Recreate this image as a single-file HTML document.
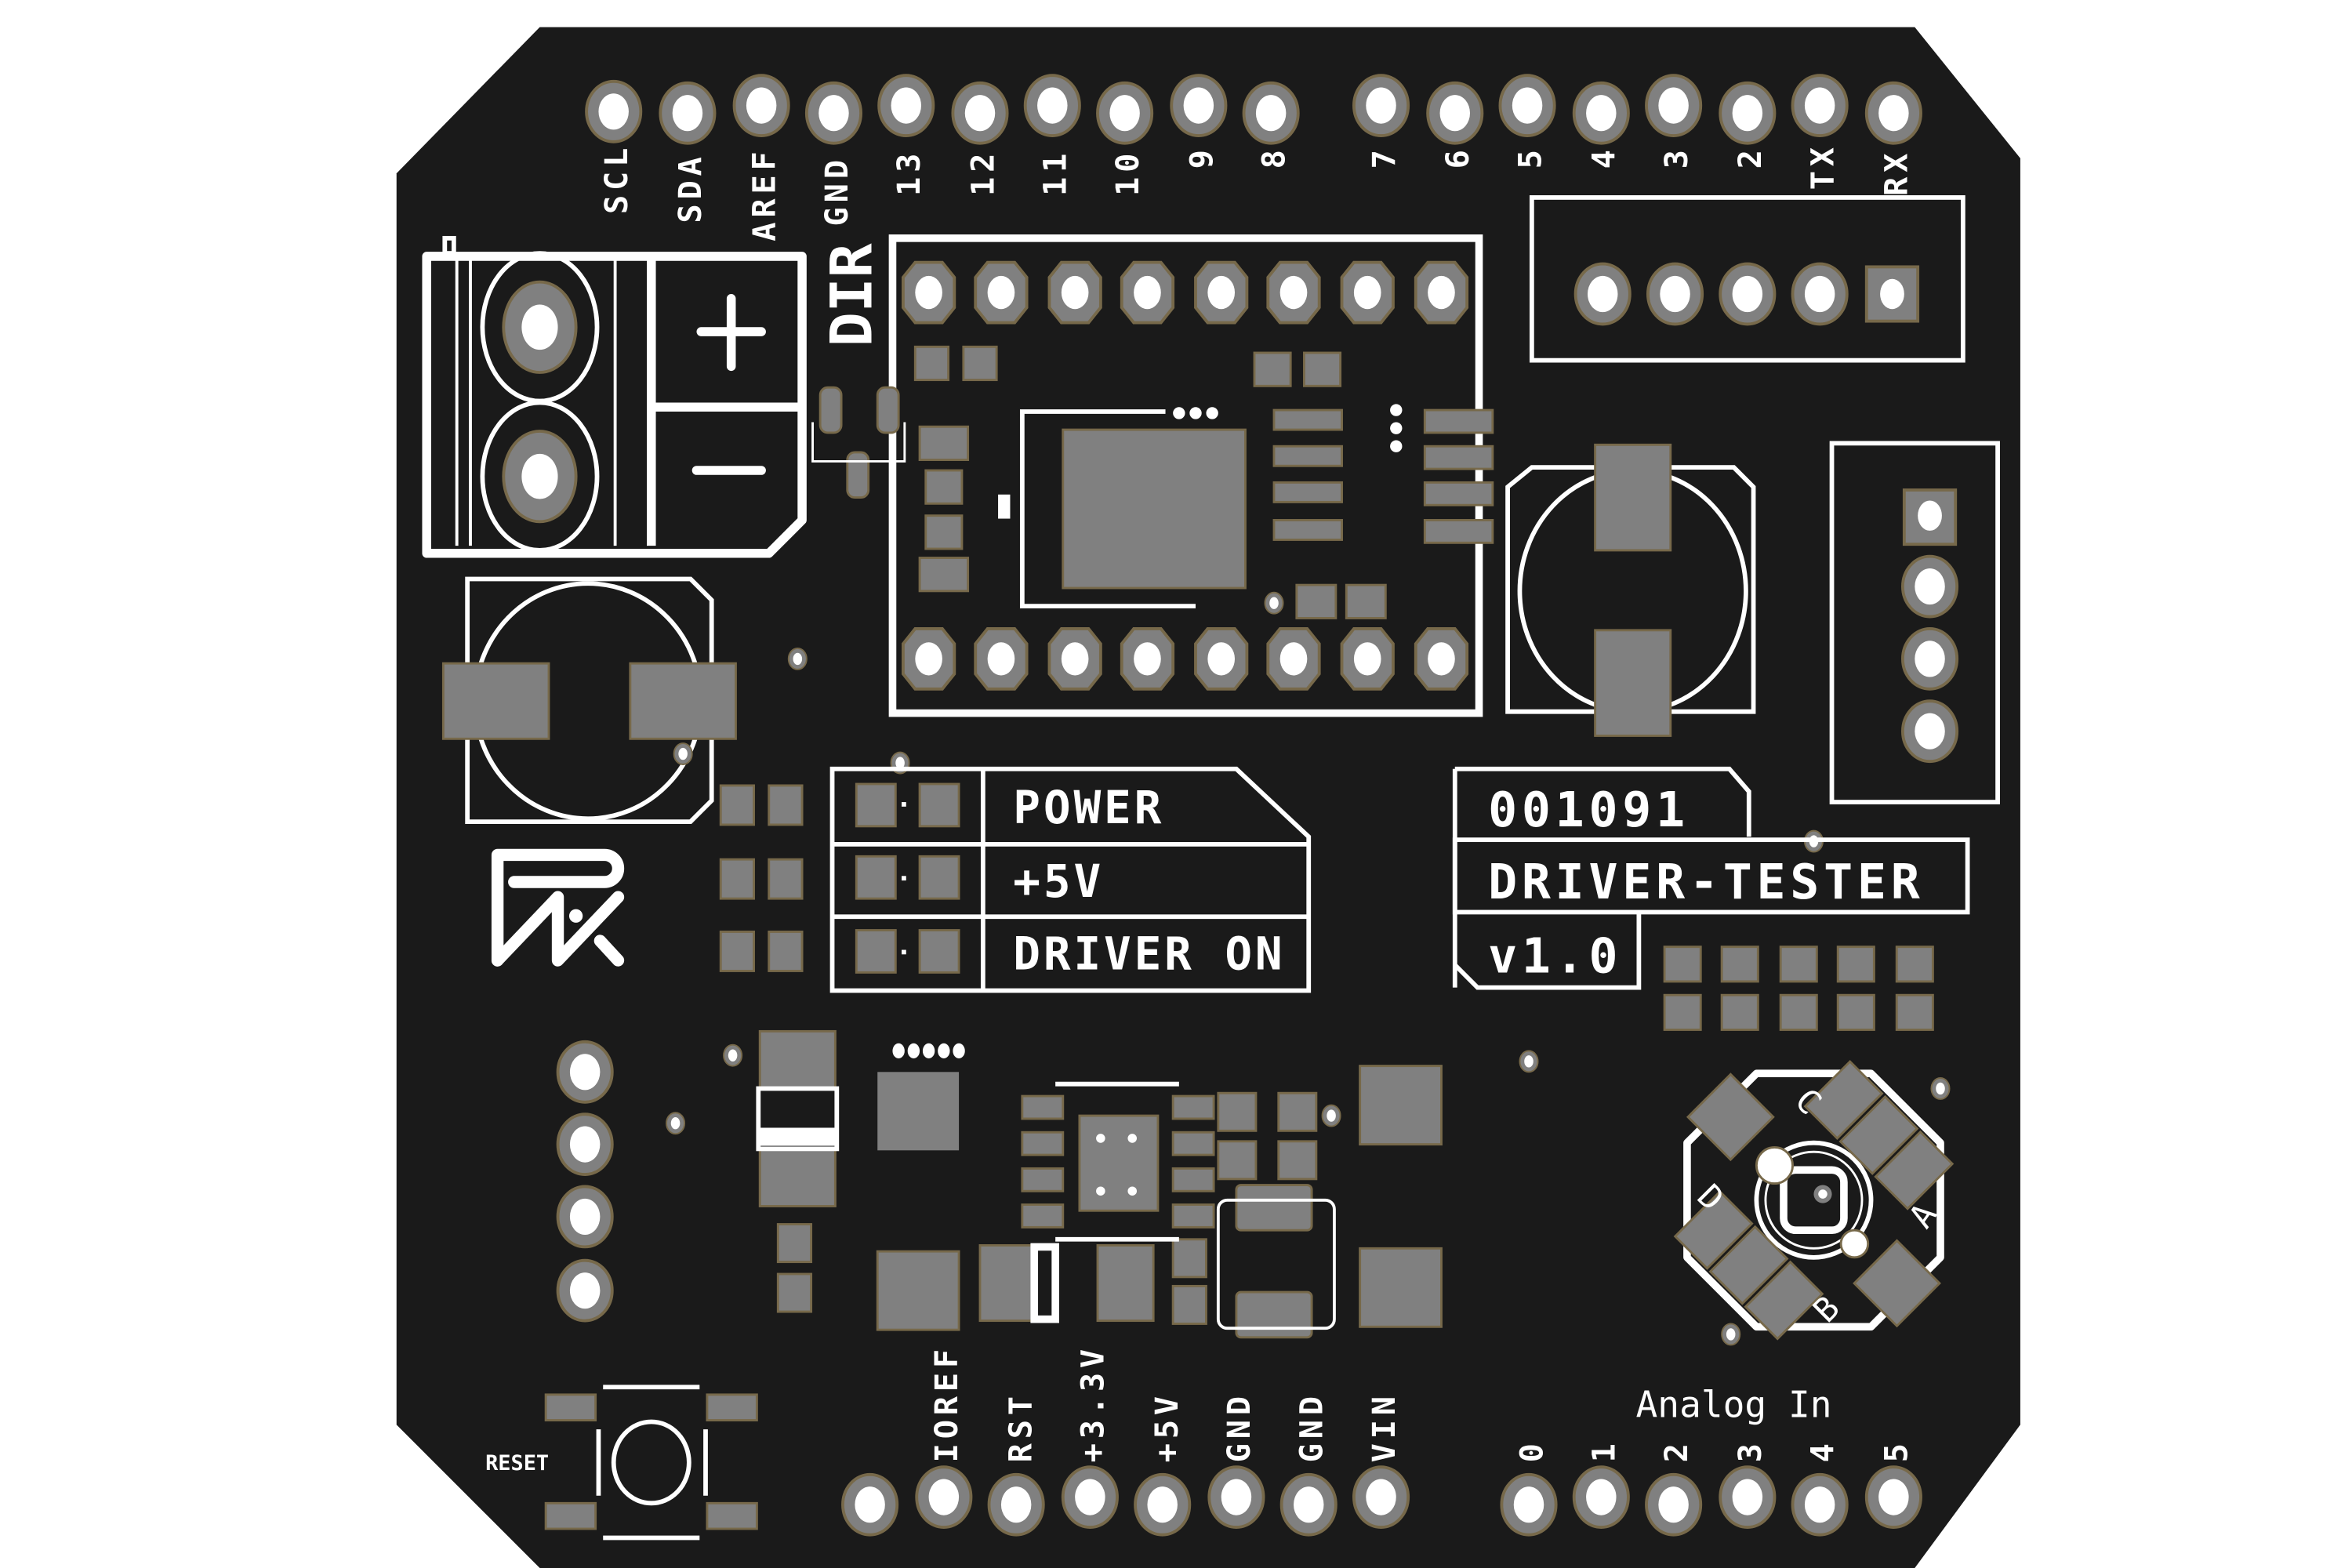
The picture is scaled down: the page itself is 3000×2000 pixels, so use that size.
<!DOCTYPE html>
<html><head><meta charset="utf-8"><style>
html,body{margin:0;padding:0;background:#fff;}
svg{display:block}
text{font-family:"DejaVu Sans Mono","Liberation Mono",monospace;fill:#fff;}
</style></head><body>
<svg width="3000" height="2000" viewBox="0 0 1560 1040" xmlns="http://www.w3.org/2000/svg">
<defs>
<g id="pin"><ellipse rx="18" ry="20" fill="#808080" stroke="#77694a" stroke-width="2"/><ellipse rx="10" ry="12" fill="#fff"/></g>
<g id="opin"><polygon points="-9,-20 9,-20 17,-10 17,10 9,20 -9,20 -17,10 -17,-10" fill="#808080" stroke="#77694a" stroke-width="2"/><ellipse rx="9" ry="11" fill="#fff"/></g>
<g id="via"><ellipse rx="6" ry="7" fill="#808080" stroke="#77694a" stroke-width="1"/><ellipse rx="3" ry="4" fill="#fff"/></g>
</defs>
<rect width="1560" height="1040" fill="#fff"/>
<polygon points="358,18 1270,18 1340,105 1340,945 1270,1040 358,1040 263,945 263,115" fill="#1a1a1a"/>
<g>
<use href="#pin" x="407" y="74"/><use href="#pin" x="456" y="75"/><use href="#pin" x="505" y="70"/><use href="#pin" x="553" y="75"/><use href="#pin" x="601" y="70"/><use href="#pin" x="650" y="75"/><use href="#pin" x="698" y="70"/><use href="#pin" x="746" y="75"/><use href="#pin" x="795" y="70"/><use href="#pin" x="843" y="75"/>
<use href="#pin" x="916" y="70"/><use href="#pin" x="965" y="75"/><use href="#pin" x="1013" y="70"/><use href="#pin" x="1062" y="75"/><use href="#pin" x="1110" y="70"/><use href="#pin" x="1159" y="75"/><use href="#pin" x="1207" y="70"/><use href="#pin" x="1256" y="75"/>
<use href="#pin" x="577" y="998"/><use href="#pin" x="626" y="993"/><use href="#pin" x="674" y="998"/><use href="#pin" x="723" y="993"/><use href="#pin" x="771" y="998"/><use href="#pin" x="820" y="993"/><use href="#pin" x="868" y="998"/><use href="#pin" x="916" y="993"/>
<use href="#pin" x="1014" y="998"/><use href="#pin" x="1062" y="993"/><use href="#pin" x="1110" y="998"/><use href="#pin" x="1159" y="993"/><use href="#pin" x="1207" y="998"/><use href="#pin" x="1256" y="993"/>
<use href="#pin" x="388" y="711"/><use href="#pin" x="388" y="759"/><use href="#pin" x="388" y="807"/><use href="#pin" x="388" y="856"/>
</g>
<g font-size="21" font-weight="bold" letter-spacing="3">
<text transform="translate(416,142) rotate(-90)">SCL</text>
<text transform="translate(465,148) rotate(-90)">SDA</text>
<text transform="translate(514,160) rotate(-90)">AREF</text>
<text transform="translate(562,150) rotate(-90)">GND</text>
<text transform="translate(610,130) rotate(-90)">13</text>
<text transform="translate(659,130) rotate(-90)">12</text>
<text transform="translate(707,130) rotate(-90)">11</text>
<text transform="translate(755,130) rotate(-90)">10</text>
<text transform="translate(804,112) rotate(-90)">9</text>
<text transform="translate(852,112) rotate(-90)">8</text>
<text transform="translate(925,112) rotate(-90)">7</text>
<text transform="translate(974,112) rotate(-90)">6</text>
<text transform="translate(1022,112) rotate(-90)">5</text>
<text transform="translate(1071,112) rotate(-90)">4</text>
<text transform="translate(1119,112) rotate(-90)">3</text>
<text transform="translate(1168,112) rotate(-90)">2</text>
<text transform="translate(1216,126) rotate(-90)">TX</text>
<text transform="translate(1265,130) rotate(-90)">RX</text>
<text transform="translate(635,970) rotate(-90)">IOREF</text>
<text transform="translate(684,970) rotate(-90)">RST</text>
<text transform="translate(732,970) rotate(-90)">+3.3V</text>
<text transform="translate(781,970) rotate(-90)">+5V</text>
<text transform="translate(829,970) rotate(-90)">GND</text>
<text transform="translate(877,970) rotate(-90)">GND</text>
<text transform="translate(925,970) rotate(-90)">VIN</text>
<text transform="translate(1023,970) rotate(-90)">0</text>
<text transform="translate(1071,970) rotate(-90)">1</text>
<text transform="translate(1119,970) rotate(-90)">2</text>
<text transform="translate(1168,970) rotate(-90)">3</text>
<text transform="translate(1216,970) rotate(-90)">4</text>
<text transform="translate(1265,970) rotate(-90)">5</text>
</g>
<text x="1150" y="940" font-size="24" text-anchor="middle" font-family="Liberation Sans Narrow, Liberation Sans, sans-serif">Analog In</text>
<text transform="translate(578,230) rotate(-90)" font-size="38" font-weight="bold">DIR</text>

<!-- terminal block -->
<g fill="none" stroke="#fff">
<path d="M283,170 H532 V345 L510,367 H283 Z" stroke-width="6" stroke-linejoin="round"/>
<line x1="303" y1="172" x2="303" y2="362" stroke-width="2"/><line x1="312" y1="172" x2="312" y2="362" stroke-width="2"/>
<line x1="408" y1="172" x2="408" y2="362" stroke-width="2"/>
<line x1="432" y1="172" x2="432" y2="362" stroke-width="6"/>
<line x1="432" y1="270" x2="532" y2="270" stroke-width="6"/>
<ellipse cx="358" cy="217" rx="38" ry="49" stroke-width="3"/>
<ellipse cx="358" cy="316" rx="38" ry="49" stroke-width="3"/>
<line x1="465" y1="220" x2="505" y2="220" stroke-width="6" stroke-linecap="round"/>
<line x1="485" y1="198" x2="485" y2="243" stroke-width="6" stroke-linecap="round"/>
<line x1="462" y1="312" x2="505" y2="312" stroke-width="6" stroke-linecap="round"/>
<rect x="295" y="158" width="6" height="10" stroke-width="3"/>
</g>
<g><ellipse cx="358" cy="217" rx="24" ry="30" fill="#808080" stroke="#77694a" stroke-width="2"/><ellipse cx="358" cy="217" rx="12" ry="15" fill="#fff"/>
<ellipse cx="358" cy="316" rx="24" ry="30" fill="#808080" stroke="#77694a" stroke-width="2"/><ellipse cx="358" cy="316" rx="12" ry="15" fill="#fff"/></g>

<!-- driver module -->
<rect x="592" y="158" width="389" height="315" fill="none" stroke="#fff" stroke-width="5"/>
<g>
<use href="#opin" x="616" y="194"/><use href="#opin" x="664" y="194"/><use href="#opin" x="713" y="194"/><use href="#opin" x="761" y="194"/><use href="#opin" x="810" y="194"/><use href="#opin" x="858" y="194"/><use href="#opin" x="907" y="194"/><use href="#opin" x="956" y="194"/>
<use href="#opin" x="616" y="437"/><use href="#opin" x="664" y="437"/><use href="#opin" x="713" y="437"/><use href="#opin" x="761" y="437"/><use href="#opin" x="810" y="437"/><use href="#opin" x="858" y="437"/><use href="#opin" x="907" y="437"/><use href="#opin" x="956" y="437"/>
</g>
<path d="M793,402 H678 V273 H773" fill="none" stroke="#fff" stroke-width="3"/>
<rect x="662" y="328" width="8" height="16" fill="#fff"/>
<g fill="#808080" stroke="#77694a" stroke-width="1.5">
<rect x="705" y="285" width="121" height="105"/>
<rect x="607" y="230" width="22" height="22"/><rect x="639" y="230" width="22" height="22"/>
<rect x="832" y="234" width="24" height="22"/><rect x="865" y="234" width="24" height="22"/>
<rect x="544" y="257" width="14" height="30" rx="5"/><rect x="582" y="257" width="14" height="30" rx="5"/><rect x="562" y="300" width="14" height="30" rx="5"/>
<rect x="610" y="283" width="32" height="22"/><rect x="614" y="312" width="24" height="22"/><rect x="614" y="342" width="24" height="22"/><rect x="610" y="370" width="32" height="22"/>
<rect x="845" y="272" width="45" height="13"/><rect x="845" y="296" width="45" height="13"/><rect x="845" y="320" width="45" height="13"/><rect x="845" y="345" width="45" height="13"/>
<rect x="945" y="272" width="45" height="15"/><rect x="945" y="296" width="45" height="15"/><rect x="945" y="320" width="45" height="15"/><rect x="945" y="345" width="45" height="15"/>
<rect x="860" y="388" width="26" height="22"/><rect x="893" y="388" width="26" height="22"/>
</g>
<path d="M539,280 V306 H600 V280" fill="none" stroke="#fff" stroke-width="1.5"/>
<g fill="#fff"><circle cx="782" cy="274" r="4"/><circle cx="793" cy="274" r="4"/><circle cx="804" cy="274" r="4"/><circle cx="926" cy="272" r="4"/><circle cx="926" cy="284" r="4"/><circle cx="926" cy="296" r="4"/><circle cx="845" cy="400" r="4"/></g>

<!-- right connectors -->
<rect x="1016" y="131" width="286" height="108" fill="none" stroke="#fff" stroke-width="3"/>
<use href="#pin" x="1063" y="195"/><use href="#pin" x="1111" y="195"/><use href="#pin" x="1159" y="195"/><use href="#pin" x="1207" y="195"/>
<rect x="1238" y="177" width="34" height="36" fill="#808080" stroke="#77694a" stroke-width="2"/><ellipse cx="1255" cy="195" rx="8" ry="10" fill="#fff"/>
<rect x="1215" y="294" width="110" height="238" fill="none" stroke="#fff" stroke-width="3"/>
<rect x="1263" y="325" width="34" height="36" fill="#808080" stroke="#77694a" stroke-width="2"/><ellipse cx="1280" cy="342" rx="8" ry="10" fill="#fff"/>
<use href="#pin" x="1280" y="389"/><use href="#pin" x="1280" y="437"/><use href="#pin" x="1280" y="485"/>

<!-- capacitors -->
<path d="M1016,310 H1150 L1163,323 V472 H1000 V323 Z" fill="none" stroke="#fff" stroke-width="3"/>
<ellipse cx="1083" cy="392" rx="75" ry="80" fill="none" stroke="#fff" stroke-width="3"/>
<rect x="1058" y="295" width="50" height="70" fill="#808080" stroke="#77694a" stroke-width="1.5"/>
<rect x="1058" y="418" width="50" height="70" fill="#808080" stroke="#77694a" stroke-width="1.5"/>
<path d="M310,384 H458 L472,398 V531 L458,545 H310 Z" fill="none" stroke="#fff" stroke-width="3"/>
<ellipse cx="390" cy="465" rx="75" ry="78" fill="none" stroke="#fff" stroke-width="3"/>
<rect x="294" y="440" width="70" height="50" fill="#808080" stroke="#77694a" stroke-width="1.5"/>
<rect x="418" y="440" width="70" height="50" fill="#808080" stroke="#77694a" stroke-width="1.5"/>
<use href="#via" x="453" y="500"/><use href="#via" x="529" y="437"/><use href="#via" x="597" y="506"/><use href="#via" x="486" y="700"/><use href="#via" x="448" y="745"/><use href="#via" x="1014" y="704"/><use href="#via" x="883" y="740"/><use href="#via" x="1287" y="722"/><use href="#via" x="1148" y="885"/><use href="#via" x="1203" y="558"/><use href="#via" x="845" y="400"/>

<!-- LED table -->
<path d="M552,510 H820 L868,555 V657 H552 Z" fill="none" stroke="#fff" stroke-width="3"/>
<g stroke="#fff" stroke-width="3"><line x1="552" y1="560" x2="868" y2="560"/><line x1="552" y1="608" x2="868" y2="608"/><line x1="652" y1="510" x2="652" y2="657"/></g>
<g fill="#808080" stroke="#77694a" stroke-width="1.5">
<rect x="568" y="520" width="26" height="28"/><rect x="610" y="520" width="26" height="28"/>
<rect x="568" y="568" width="26" height="28"/><rect x="610" y="568" width="26" height="28"/>
<rect x="568" y="617" width="26" height="28"/><rect x="610" y="617" width="26" height="28"/>
<rect x="478" y="521" width="22" height="26"/><rect x="510" y="521" width="22" height="26"/>
<rect x="478" y="570" width="22" height="26"/><rect x="510" y="570" width="22" height="26"/>
<rect x="478" y="618" width="22" height="26"/><rect x="510" y="618" width="22" height="26"/>
</g>
<g fill="#fff"><rect x="598" y="532" width="3" height="3"/><rect x="598" y="581" width="3" height="3"/><rect x="598" y="630" width="3" height="3"/></g>
<g font-size="30" font-family="Liberation Sans Narrow, Liberation Sans, sans-serif" font-weight="bold" letter-spacing="2">
<text x="672" y="546">POWER</text><text x="672" y="595">+5V</text><text x="672" y="643">DRIVER ON</text>
</g>

<!-- label boxes -->
<path d="M965,510 H1147 L1160,525 V555" fill="none" stroke="#fff" stroke-width="3"/>
<line x1="965" y1="510" x2="965" y2="655" stroke="#fff" stroke-width="3"/>
<rect x="965" y="557" width="340" height="48" fill="none" stroke="#fff" stroke-width="3"/>
<path d="M965,640 L980,655 H1087 V605" fill="none" stroke="#fff" stroke-width="3"/>
<g font-size="32" font-family="Liberation Sans Narrow, Liberation Sans, sans-serif" font-weight="bold" letter-spacing="3">
<text x="987" y="548">001091</text><text x="987" y="596">DRIVER-TESTER</text><text x="987" y="645">v1.0</text>
</g>
<g fill="#808080" stroke="#77694a" stroke-width="1.5">
<rect x="1104" y="628" width="24" height="23"/><rect x="1142" y="628" width="24" height="23"/><rect x="1181" y="628" width="24" height="23"/><rect x="1219" y="628" width="24" height="23"/><rect x="1258" y="628" width="24" height="23"/>
<rect x="1104" y="660" width="24" height="23"/><rect x="1142" y="660" width="24" height="23"/><rect x="1181" y="660" width="24" height="23"/><rect x="1219" y="660" width="24" height="23"/><rect x="1258" y="660" width="24" height="23"/>
</g>

<!-- logo -->
<g fill="none" stroke="#fff" stroke-width="8" stroke-linecap="round" stroke-linejoin="round">
<path d="M330,637 V567 H401 A9,9 0 0 1 401,585 H341"/>
<path d="M330,637 L370,595 V637 L410,595"/>
<path d="M398,624 L410,637"/>
</g>
<circle cx="382" cy="607.5" r="4.5" fill="#fff"/>

<!-- bottom area components -->
<g fill="#808080" stroke="#77694a" stroke-width="1.5">
<rect x="504" y="684" width="50" height="38"/><rect x="504" y="762" width="50" height="38"/>
<rect x="582" y="711" width="54" height="52" stroke="none"/>
<rect x="516" y="812" width="22" height="25"/><rect x="516" y="845" width="22" height="25"/>
<rect x="582" y="830" width="54" height="52"/>
<rect x="678" y="727" width="27" height="15"/><rect x="678" y="751" width="27" height="15"/><rect x="678" y="775" width="27" height="15"/><rect x="678" y="799" width="27" height="15"/>
<rect x="778" y="727" width="27" height="15"/><rect x="778" y="751" width="27" height="15"/><rect x="778" y="775" width="27" height="15"/><rect x="778" y="799" width="27" height="15"/>
<rect x="716" y="740" width="52" height="63"/>
<rect x="808" y="725" width="25" height="25"/><rect x="848" y="725" width="25" height="25"/>
<rect x="808" y="757" width="25" height="25"/><rect x="848" y="757" width="25" height="25"/>
<rect x="650" y="826" width="37" height="50"/><rect x="728" y="826" width="37" height="50"/>
<rect x="778" y="822" width="22" height="25"/><rect x="778" y="853" width="22" height="25"/>
<rect x="820" y="786" width="50" height="30" rx="3"/><rect x="820" y="857" width="50" height="30" rx="3"/>
<rect x="902" y="707" width="54" height="52"/><rect x="902" y="828" width="54" height="52"/>
</g>
<rect x="503" y="722" width="52" height="40" fill="none" stroke="#fff" stroke-width="3"/>
<rect x="503" y="748" width="52" height="12" fill="#fff"/>
<path d="M686,827 H700 V875 H686 Z" fill="none" stroke="#fff" stroke-width="5"/>
<rect x="808" y="796" width="77" height="85" rx="6" fill="none" stroke="#fff" stroke-width="2"/>
<line x1="700" y1="719" x2="782" y2="719" stroke="#fff" stroke-width="3"/>
<line x1="700" y1="822" x2="782" y2="822" stroke="#fff" stroke-width="3"/>
<g fill="#fff"><ellipse cx="596" cy="697" rx="4" ry="5"/><ellipse cx="606" cy="697" rx="4" ry="5"/><ellipse cx="616" cy="697" rx="4" ry="5"/><ellipse cx="626" cy="697" rx="4" ry="5"/><ellipse cx="636" cy="697" rx="4" ry="5"/>
<circle cx="730" cy="755" r="3"/><circle cx="751" cy="755" r="3"/><circle cx="730" cy="790" r="3"/><circle cx="751" cy="790" r="3"/></g>

<!-- reset -->
<g fill="#808080" stroke="#77694a" stroke-width="1.5">
<rect x="362" y="925" width="33" height="17"/><rect x="469" y="925" width="33" height="17"/><rect x="362" y="997" width="33" height="17"/><rect x="469" y="997" width="33" height="17"/>
</g>
<g fill="none" stroke="#fff" stroke-width="3">
<ellipse cx="432" cy="970" rx="25" ry="27"/>
<line x1="400" y1="920" x2="464" y2="920"/><line x1="400" y1="1020" x2="464" y2="1020"/>
<line x1="397" y1="948" x2="397" y2="992"/><line x1="468" y1="948" x2="468" y2="992"/>
</g>
<text x="343" y="975" font-size="14" font-weight="bold" text-anchor="middle" font-family="Liberation Sans Narrow, Liberation Sans, sans-serif">RESET</text>

<!-- RGB LED -->
<g transform="translate(1203,796)">
<polygon points="-38,-84 38,-84 84,-38 84,38 38,84 -38,84 -84,38 -84,-38" fill="none" stroke="#fff" stroke-width="5" stroke-linejoin="round"/>
<circle cx="0" cy="0" r="38" fill="none" stroke="#fff" stroke-width="3"/>
<circle cx="0" cy="0" r="32" fill="none" stroke="#fff" stroke-width="1.5"/>
<rect x="-20" y="-20" width="40" height="40" rx="8" fill="none" stroke="#fff" stroke-width="5"/>
<g transform="rotate(45)" fill="#808080" stroke="#77694a" stroke-width="1.5">
<rect x="-98" y="-20" width="40" height="40"/>
<rect x="58" y="-20" width="40" height="40"/>
<rect x="-48" y="-82" width="30" height="42"/><rect x="-15" y="-82" width="30" height="42"/><rect x="18" y="-82" width="30" height="42"/>
<rect x="-48" y="40" width="30" height="42"/><rect x="-15" y="40" width="30" height="42"/><rect x="18" y="40" width="30" height="42"/>
</g>
<circle cx="-26" cy="-23" r="12" fill="#fff" stroke="#77694a" stroke-width="1.5"/>
<circle cx="27" cy="29" r="9" fill="#fff" stroke="#77694a" stroke-width="1.5"/>
<circle cx="6" cy="-4" r="6" fill="#808080"/><circle cx="6" cy="-4" r="3" fill="#fff"/>
<g font-size="22" font-family="Liberation Sans, sans-serif">
<text x="-4" y="-58" text-anchor="middle" transform="rotate(45 -4 -65)">C</text>
<text x="72" y="18" text-anchor="middle" transform="rotate(-55 72 10)">A</text>
<text x="8" y="80" text-anchor="middle" transform="rotate(-45 8 72)">B</text>
<text x="-68" y="6" text-anchor="middle" transform="rotate(45 -68 -2)">D</text>
</g>
</g>
</svg>
</body></html>
